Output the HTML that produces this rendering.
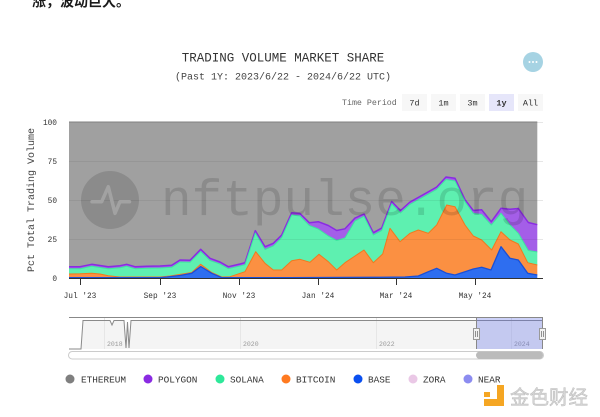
<!DOCTYPE html>
<html>
<head>
<meta charset="utf-8">
<style>
html,body{margin:0;padding:0;background:#fff;}
body{width:600px;height:417px;overflow:hidden;}
svg{display:block;}
.mono{font-family:"Liberation Mono","DejaVu Sans Mono",monospace;}
</style>
</head>
<body>
<svg width="600" height="417" viewBox="0 0 600 417" xmlns="http://www.w3.org/2000/svg">
<rect width="600" height="417" fill="#fff"/>

<!-- top chinese text -->
<text x="32" y="6.5" font-family="'Liberation Sans','Noto Sans CJK SC',sans-serif" font-size="14" font-weight="bold" fill="#1a1a1a">涨，波动巨大。</text>

<!-- titles -->
<text x="283" y="61.5" text-anchor="middle" class="mono" font-size="12.5" fill="#333">TRADING VOLUME MARKET SHARE</text>
<text x="283" y="79.5" text-anchor="middle" class="mono" font-size="10" fill="#444">(Past 1Y: 2023/6/22 - 2024/6/22 UTC)</text>

<!-- menu button -->
<circle cx="533" cy="62" r="10" fill="#a6d3e3"/>
<circle cx="529.5" cy="62" r="1" fill="#fff"/>
<circle cx="533" cy="62" r="1" fill="#fff"/>
<circle cx="536.5" cy="62" r="1" fill="#fff"/>

<!-- time period -->
<text x="342" y="105" class="mono" font-size="8.3" fill="#666">Time Period</text>
<rect x="402" y="94" width="25" height="17" fill="#f7f7f7"/>
<rect x="431" y="94" width="25" height="17" fill="#f7f7f7"/>
<rect x="460" y="94" width="25" height="17" fill="#f7f7f7"/>
<rect x="489" y="94" width="25" height="17" fill="#e6e6fa"/>
<rect x="518" y="94" width="25" height="17" fill="#f7f7f7"/>
<g class="mono" font-size="8.5" fill="#333" text-anchor="middle">
<text x="414.5" y="105.5">7d</text>
<text x="443.5" y="105.5">1m</text>
<text x="472.5" y="105.5">3m</text>
<text x="501.5" y="105.5" font-weight="bold">1y</text>
<text x="530.5" y="105.5">All</text>
</g>

<!-- gridlines -->
<g stroke="#e6e6e6" stroke-width="1">
<line x1="69" y1="122.5" x2="543" y2="122.5"/>
<line x1="69" y1="161.5" x2="543" y2="161.5"/>
<line x1="69" y1="200.5" x2="543" y2="200.5"/>
<line x1="69" y1="239.5" x2="543" y2="239.5"/>
</g>

<!-- stacked areas -->
<!-- ethereum (gray) -->
<polygon fill="#a0a0a0" points="69,122 537.3,122 537.3,224.7 528.3,222.5 518.3,208.5 510,209.3 501,208.3 491.3,221.7 481.7,209.8 473.3,210.5 465,199.7 455,178.3 446,177 436.7,187 421.7,195.5 410,202 400.5,210.5 391.7,201.5 381.7,228 373.3,232.7 364,214 355,218 345,228.8 336.7,230.5 328.3,225.5 318.3,221.7 309.3,222.7 300,213.5 291.7,212.7 281.7,235 273.3,243.3 265,246.7 255.3,230.7 245,262.7 240,264 228.3,266.7 220,262 210,258.3 200.7,249.3 190,260.3 180,260 171.7,265.3 160,266 146.7,266.3 135,266.7 126.7,264.3 120,265.7 108.3,266.7 100,265.5 91.7,264.3 80,266.7 69,266.7"/>
<!-- polygon (purple) -->
<polygon fill="#a45ee8" points="69,266.7 80,266.7 91.7,264.3 100,265.5 108.3,266.7 120,265.7 126.7,264.3 135,266.7 146.7,266.3 160,266 171.7,265.3 180,260 190,260.3 200.7,249.3 210,258.3 220,262 228.3,266.7 240,264 245,262.7 255.3,230.7 265,246.7 273.3,243.3 281.7,235 291.7,212.7 300,213.5 309.3,222.7 318.3,221.7 328.3,225.5 336.7,230.5 345,228.8 355,218 364,214 373.3,232.7 381.7,228 391.7,201.5 400.5,210.5 410,202 421.7,195.5 436.7,187 446,177 455,178.3 465,199.7 473.3,210.5 481.7,209.8 491.3,221.7 501,208.3 510,209.3 518.3,208.5 528.3,222.5 537.3,224.7
537.3,252 528.3,250.5 518.3,233.3 510,225 501,213.3 491.3,225 481.7,214.5 473.3,213.5 465,201.7 455,181 446,179.5 436.7,189.3 421.7,197.8 410,204.3 400.5,213 391.7,203.8 381.7,230.5 373.3,235 364,216.3 355,221 345,238 336.7,240.5 328.3,236 318.3,229 309.3,225.5 300,216 291.7,215 281.7,237.5 273.3,246 265,249.5 255.3,233 245,264.7 240,266 228.3,268.7 220,264 210,260.5 200.7,251.5 190,262.3 180,262 171.7,267.3 160,268 146.7,268.3 135,268.7 126.7,266.3 120,267.7 108.3,268.7 100,267.5 91.7,266.3 80,268.7 69,268.7"/>
<!-- solana (green) -->
<polygon fill="#5ef0b0" points="69,268.7 80,268.7 91.7,266.3 100,267.5 108.3,268.7 120,267.7 126.7,266.3 135,268.7 146.7,268.3 160,268 171.7,267.3 180,262 190,262.3 200.7,251.5 210,260.5 220,264 228.3,268.7 240,266 245,264.7 255.3,233 265,249.5 273.3,246 281.7,237.5 291.7,215 300,216 309.3,225.5 318.3,229 328.3,236 336.7,240.5 345,238 355,221 364,216.3 373.3,235 381.7,230.5 391.7,203.8 400.5,213 410,204.3 421.7,197.8 436.7,189.3 446,179.5 455,181 465,201.7 473.3,213.5 481.7,214.5 491.3,225 501,213.3 510,225 518.3,233.3 528.3,250.5 537.3,252
537.3,265 527.7,262.7 518.3,244 510,240 501,231.7 491.7,250 481.7,240 473.3,236 465,225 455,206.7 446.7,205 436.7,225 428.3,233.3 418.3,230 410,233.3 400,241.7 390,228.3 382.7,254 373.3,262.7 364,250 355,256 345,262.7 336.7,270 328.3,261.7 319,254.3 310,262.3 300,259.3 291.7,260.7 281.7,270 273.3,270 265,263.3 255.7,251.7 245,271.7 230,276.7 221.7,277 211.7,272.5 200.7,264.3 191.7,272.5 170,276 160,277 120,277 108.3,275.7 100,274 91.7,273.3 80,273.8 69,274"/>
<!-- bitcoin (orange) -->
<polygon fill="#fb9042" points="69,274 80,273.8 91.7,273.3 100,274 108.3,275.7 120,277 160,277 170,276 191.7,272.5 200.7,264.3 211.7,272.5 221.7,277 230,276.7 245,271.7 255.7,251.7 265,263.3 273.3,270 281.7,270 291.7,260.7 300,259.3 310,262.3 319,254.3 328.3,261.7 336.7,270 345,262.7 355,256 364,250 373.3,262.7 382.7,254 390,228.3 400,241.7 410,233.3 418.3,230 428.3,233.3 436.7,225 446.7,205 455,206.7 465,225 473.3,236 481.7,240 491.7,250 501,231.7 510,240 518.3,244 527.7,262.7 537.3,265
537.3,275 527.7,273.3 518.3,260 510,258.3 501,246.7 491,270 481.7,267.3 473.3,269 465,271.7 455,275 446.7,273.3 436.7,268.3 428.3,271.7 418.3,276 405,277 375,277.3 290,277.7 221.7,277.6 211.7,273.3 200.7,266.5 191.7,273.3 180,275.5 167,277 160,277.6 69,277.6"/>
<!-- base (blue) -->
<polygon fill="#2e6ef0" points="69,277.6 160,277.6 167,277 180,275.5 191.7,273.3 200.7,266.5 211.7,273.3 221.7,277.6 290,277.7 375,277.3 405,277 418.3,276 428.3,271.7 436.7,268.3 446.7,273.3 455,275 465,271.7 473.3,269 481.7,267.3 491,270 501,246.7 510,258.3 518.3,260 527.7,273.3 537.3,275 537.3,278 69,278"/>

<!-- series lines -->
<g fill="none" stroke-linejoin="round">
<polyline stroke="#808080" stroke-width="1" points="69,122 537.3,122"/>
<polyline stroke="#8a2be2" stroke-width="1.5" points="69,266.7 80,266.7 91.7,264.3 100,265.5 108.3,266.7 120,265.7 126.7,264.3 135,266.7 146.7,266.3 160,266 171.7,265.3 180,260 190,260.3 200.7,249.3 210,258.3 220,262 228.3,266.7 240,264 245,262.7 255.3,230.7 265,246.7 273.3,243.3 281.7,235 291.7,212.7 300,213.5 309.3,222.7 318.3,221.7 328.3,225.5 336.7,230.5 345,228.8 355,218 364,214 373.3,232.7 381.7,228 391.7,201.5 400.5,210.5 410,202 421.7,195.5 436.7,187 446,177 455,178.3 465,199.7 473.3,210.5 481.7,209.8 491.3,221.7 501,208.3 510,209.3 518.3,208.5 528.3,222.5 537.3,224.7"/>
<polyline stroke="#3fe6a0" stroke-width="1" points="69,268.7 80,268.7 91.7,266.3 100,267.5 108.3,268.7 120,267.7 126.7,266.3 135,268.7 146.7,268.3 160,268 171.7,267.3 180,262 190,262.3 200.7,251.5 210,260.5 220,264 228.3,268.7 240,266 245,264.7 255.3,233 265,249.5 273.3,246 281.7,237.5 291.7,215 300,216 309.3,225.5 318.3,229 328.3,236 336.7,240.5 345,238 355,221 364,216.3 373.3,235 381.7,230.5 391.7,203.8 400.5,213 410,204.3 421.7,197.8 436.7,189.3 446,179.5 455,181 465,201.7 473.3,213.5 481.7,214.5 491.3,225 501,213.3 510,225 518.3,233.3 528.3,250.5 537.3,252"/>
<polyline stroke="#f07a1e" stroke-width="1" points="69,274 80,273.8 91.7,273.3 100,274 108.3,275.7 120,277 160,277 170,276 191.7,272.5 200.7,264.3 211.7,272.5 221.7,277 230,276.7 245,271.7 255.7,251.7 265,263.3 273.3,270 281.7,270 291.7,260.7 300,259.3 310,262.3 319,254.3 328.3,261.7 336.7,270 345,262.7 355,256 364,250 373.3,262.7 382.7,254 390,228.3 400,241.7 410,233.3 418.3,230 428.3,233.3 436.7,225 446.7,205 455,206.7 465,225 473.3,236 481.7,240 491.7,250 501,231.7 510,240 518.3,244 527.7,262.7 537.3,265"/>
<polyline stroke="#1a4fd6" stroke-width="1.3" points="69,277.6 160,277.6 167,277 180,275.5 191.7,273.3 200.7,266.5 211.7,273.3 221.7,277.6 290,277.7 375,277.3 405,277 418.3,276 428.3,271.7 436.7,268.3 446.7,273.3 455,275 465,271.7 473.3,269 481.7,267.3 491,270 501,246.7 510,258.3 518.3,260 527.7,273.3 537.3,275"/>
</g>

<!-- grid overlay within plot -->
<g stroke="rgba(0,0,0,0.06)" stroke-width="1">
<line x1="69" y1="161.5" x2="537.3" y2="161.5"/>
<line x1="69" y1="200.5" x2="537.3" y2="200.5"/>
<line x1="69" y1="239.5" x2="537.3" y2="239.5"/>
</g>

<!-- watermark -->
<circle cx="110" cy="200" r="29" fill="rgba(0,0,0,0.13)"/>
<polyline fill="none" stroke="#a2a2a2" stroke-width="3.5" stroke-linecap="round" stroke-linejoin="round" points="92,201.7 101.7,201.7 108.3,186.7 115,213.3 120,201.7 129.5,201.7"/>
<text x="161" y="215" class="mono" font-size="51" fill="rgba(0,0,0,0.13)">nftpulse.org</text>

<!-- x axis -->
<line x1="69" y1="278.5" x2="543" y2="278.5" stroke="#333" stroke-width="1"/>
<g stroke="#333" stroke-width="1">
<line x1="80.5" y1="278" x2="80.5" y2="285"/>
<line x1="160.5" y1="278" x2="160.5" y2="285"/>
<line x1="239.5" y1="278" x2="239.5" y2="285"/>
<line x1="318.5" y1="278" x2="318.5" y2="285"/>
<line x1="396.5" y1="278" x2="396.5" y2="285"/>
<line x1="475.5" y1="278" x2="475.5" y2="285"/>
</g>
<g class="mono" font-size="7.8" fill="#333" text-anchor="middle">
<text x="80" y="298">Jul '23</text>
<text x="160" y="298">Sep '23</text>
<text x="239" y="298">Nov '23</text>
<text x="318" y="298">Jan '24</text>
<text x="396" y="298">Mar '24</text>
<text x="475" y="298">May '24</text>
</g>

<!-- y axis labels -->
<g class="mono" font-size="7.8" fill="#333" text-anchor="end">
<text x="57" y="125">100</text>
<text x="57" y="164">75</text>
<text x="57" y="203">50</text>
<text x="57" y="242">25</text>
<text x="57" y="281">0</text>
</g>
<text transform="translate(34,200) rotate(-90)" text-anchor="middle" class="mono" font-size="10" fill="#444">Pct Total Trading Volume</text>

<!-- navigator -->
<polygon fill="#f4f4f4" points="69,349 81,349 83,320.5 110,320.5 112,325 114,320.5 124,320.5 126,348 127.5,322 129,348 131,320.5 543,320.5 543,349"/>
<g stroke="#e6e6e6" stroke-width="1">
<line x1="104.5" y1="317" x2="104.5" y2="349"/>
<line x1="240.5" y1="317" x2="240.5" y2="349"/>
<line x1="376.5" y1="317" x2="376.5" y2="349"/>
<line x1="511.5" y1="317" x2="511.5" y2="349"/>
</g>
<polyline fill="none" stroke="#8a8a8a" stroke-width="1" points="69,349 81,349 83,320.5 110,320.5 112,325 114,320.5 124,320.5 126,348 127.5,322 129,348 131,320.5 543,320.5"/>
<g class="mono" font-size="6.5" fill="#999">
<text x="107" y="346">2018</text>
<text x="243" y="346">2020</text>
<text x="379" y="346">2022</text>
<text x="514" y="346">2024</text>
</g>
<rect x="476" y="317" width="67" height="32" fill="rgba(100,115,235,0.33)"/>
<line x1="69" y1="317.5" x2="543" y2="317.5" stroke="#888" stroke-width="1"/>
<line x1="476.5" y1="317" x2="476.5" y2="349" stroke="#888" stroke-width="1"/>
<line x1="542.5" y1="317" x2="542.5" y2="349" stroke="#888" stroke-width="1"/>
<g>
<rect x="473.5" y="328.5" width="6" height="11" fill="#f2f2f2" stroke="#999" stroke-width="1"/>
<line x1="475.5" y1="331" x2="475.5" y2="337" stroke="#777" stroke-width="0.8"/>
<line x1="477.5" y1="331" x2="477.5" y2="337" stroke="#777" stroke-width="0.8"/>
<rect x="539.5" y="328.5" width="6" height="11" fill="#f2f2f2" stroke="#999" stroke-width="1"/>
<line x1="541.5" y1="331" x2="541.5" y2="337" stroke="#777" stroke-width="0.8"/>
<line x1="543.5" y1="331" x2="543.5" y2="337" stroke="#777" stroke-width="0.8"/>
</g>

<!-- scrollbar -->
<rect x="68.5" y="351.5" width="475" height="7.5" rx="3.75" fill="#fff" stroke="#ccc" stroke-width="1"/>
<rect x="476" y="351.5" width="67" height="7.5" rx="3.75" fill="#bbb"/>

<!-- legend -->
<g class="mono" font-size="9.4" fill="#333">
<circle cx="70" cy="379" r="4.5" fill="#7f7f7f"/><text x="81" y="382.5">ETHEREUM</text>
<circle cx="148" cy="379" r="4.5" fill="#8a2be2"/><text x="158" y="382.5">POLYGON</text>
<circle cx="220" cy="379" r="4.5" fill="#2ee89a"/><text x="230" y="382.5">SOLANA</text>
<circle cx="286" cy="379" r="4.5" fill="#ff7a20"/><text x="296" y="382.5">BITCOIN</text>
<circle cx="358" cy="379" r="4.5" fill="#0a4ff0"/><text x="368" y="382.5">BASE</text>
<circle cx="413" cy="379" r="4.5" fill="#eac8e6"/><text x="423" y="382.5">ZORA</text>
<circle cx="468" cy="379" r="4.5" fill="#8c8cf0"/><text x="478" y="382.5">NEAR</text>
</g>

<!-- bottom-right logo watermark -->
<g>
<rect x="497" y="385" width="7" height="21" fill="#f5a623"/>
<rect x="484" y="399" width="20" height="7" fill="#f5a623"/>
<rect x="484" y="392" width="6" height="5" fill="#f5a623"/>
<text x="510" y="404" font-family="'Liberation Sans','Noto Sans CJK SC',sans-serif" font-size="19.5" fill="#d6d6d6" stroke="#bdbdbd" stroke-width="0.5">金色财经</text>
</g>
</svg>
</body>
</html>
